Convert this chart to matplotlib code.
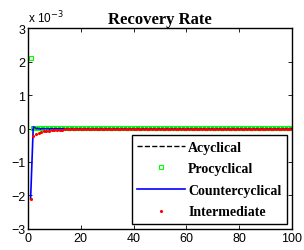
import numpy as np
import matplotlib.pyplot as plt
from matplotlib.ticker import FuncFormatter

# periods 1..100
periods = np.arange(1, 101)

# values (units of 1)
acyclical = [0.0] * 100
procyclical = [2.1e-3] + [0.01e-3] * 99
countercyclical = [-2.1e-3, 0.05e-3, 0.01e-3] + [-0.005e-3] * 97
intermediate_head = [-2.1e-3, -0.23e-3, -0.16e-3, -0.12e-3, -0.10e-3, -0.08e-3,
                     -0.07e-3, -0.06e-3, -0.05e-3, -0.045e-3, -0.04e-3, -0.035e-3,
                     -0.03e-3, -0.025e-3, -0.02e-3]
intermediate = intermediate_head + [-0.015e-3] * (100 - len(intermediate_head))

legend_labels = ["Acyclical", "Procyclical", "Countercyclical", "Intermediate"]

fig = plt.figure(figsize=(3.04, 2.51), dpi=100)
ax = fig.add_axes([0.092, 0.084, 0.868, 0.8])

ax.plot(periods, acyclical, "k--", lw=1.0, label=legend_labels[0])
ax.plot(periods, procyclical, "s", color="#00ff00", ms=2.2, mfc="none", mew=0.8,
        label=legend_labels[1])
ax.plot(periods, countercyclical, "-", color="#0000ff", lw=1.2, label=legend_labels[2])
ax.plot(periods, intermediate, ".", color="#ff0000", ms=2.5, label=legend_labels[3])

ax.set_xlim(0, 100)
ax.set_ylim(-3e-3, 3e-3)
ax.set_xticks([0, 20, 40, 60, 80, 100])
ax.set_yticks(np.arange(-3, 4) * 1e-3)
ax.yaxis.set_major_formatter(FuncFormatter(lambda v, p: f"{v * 1e3:g}".replace("-", "\u2212")))

ax.tick_params(direction="in", top=True, right=True, length=3, width=0.6,
               labelsize=9, pad=2)
for lab in ax.get_xticklabels() + ax.get_yticklabels():
    lab.set_family("Liberation Sans")
for s in ax.spines.values():
    s.set_linewidth(1.0)

ax.text(0.0, 1.015, "x 10$^{-3}$", transform=ax.transAxes, fontsize=8.5,
        family="Liberation Sans", ha="left", va="bottom")
ax.set_title("Recovery Rate", fontsize=12, fontweight="bold", family="Liberation Serif", pad=4)

leg = ax.legend(loc="lower right", prop={"family": "Liberation Serif", "weight": "bold", "size": 10},
                handlelength=3.4, handletextpad=0.25, borderpad=0.4, labelspacing=0.62,
                fancybox=False, edgecolor="black", framealpha=1, numpoints=1,
                borderaxespad=0.35)
leg.get_frame().set_linewidth(1.0)

fig.savefig("out.png", dpi=100)
